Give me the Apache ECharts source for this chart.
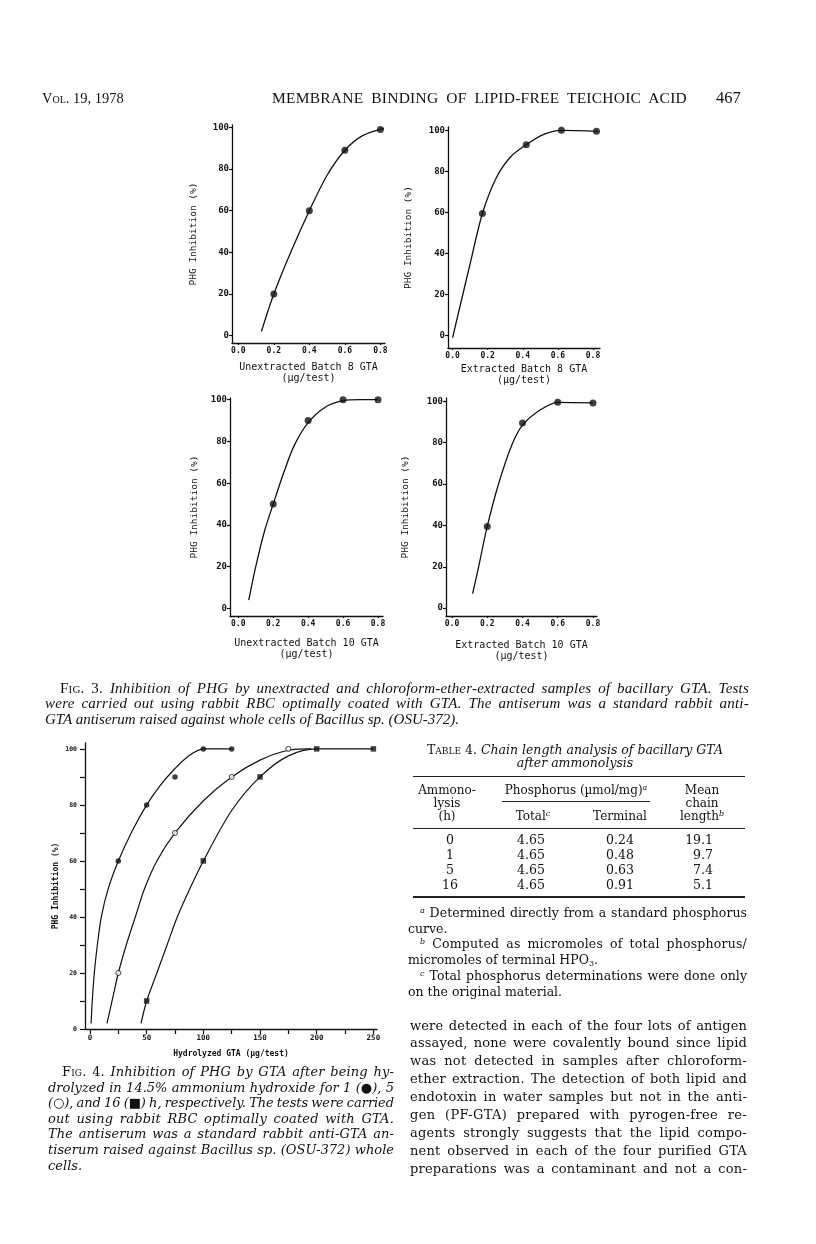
<!DOCTYPE html>
<html><head><meta charset="utf-8">
<script src="https://cdn.jsdelivr.net/npm/echarts@6/dist/echarts.min.js"></script>
<style>
body{margin:0;background:#fff;width:816px;height:1244px;position:relative;overflow:hidden}
#chart{position:absolute;left:0;top:0;width:816px;height:1244px}
.t{position:absolute;white-space:nowrap;color:#111;line-height:1}
.s{font-size:8px;position:relative;top:-4px;font-style:italic}
.sc{font-variant:small-caps;font-style:normal}
.rule{position:absolute;background:#222}
</style></head><body>
<div id="chart"></div>
<div id="txt"></div>
<script>
// ---------- tick values ----------
const smallXTicks = [0, 0.2, 0.4, 0.6, 0.8];
const smallYTicks = [0, 20, 40, 60, 80, 100];
const fig4XTicks = [0, 50, 100, 150, 200, 250];
const fig4XMinorTicks = [0, 25, 50, 75, 100, 125, 150, 175, 200, 225, 250];
const fig4YTicks = [0, 20, 40, 60, 80, 100];
const fig4YMinorTicks = [0, 10, 20, 30, 40, 50, 60, 70, 80, 90, 100];

// ---------- Fig 3 panels (x: µg/test, y: % inhibition) ----------
const p1PointX = [0.2, 0.4, 0.6, 0.8];
const p1PointY = [20, 60, 89, 99];
const p1CurveX = [0.13, 0.2, 0.3, 0.4, 0.5, 0.6, 0.7, 0.82];
const p1CurveY = [2, 20, 41, 60, 77, 89, 96, 99.5];

const p2PointX = [0.17, 0.42, 0.62, 0.82];
const p2PointY = [59.5, 93, 100, 99.5];
const p2CurveX = [0.0, 0.05, 0.1, 0.17, 0.25, 0.33, 0.42, 0.52, 0.62, 0.83];
const p2CurveY = [-1, 17, 35, 59.5, 77, 87, 93, 98, 100, 99.5];

const p3PointX = [0.2, 0.4, 0.6, 0.8];
const p3PointY = [50, 90, 100, 100];
const p3CurveX = [0.06, 0.1, 0.15, 0.2, 0.26, 0.32, 0.4, 0.5, 0.6, 0.7, 0.8];
const p3CurveY = [4, 20, 37, 50, 65, 78, 89, 96.5, 99.5, 100, 100];

const p4PointX = [0.2, 0.4, 0.6, 0.8];
const p4PointY = [39.5, 89.5, 99.5, 99.2];
const p4CurveX = [0.117, 0.151, 0.2, 0.264, 0.34, 0.4, 0.5, 0.6, 0.8];
const p4CurveY = [7, 20, 39.5, 60, 79, 88.5, 95.8, 99.5, 99.2];

// ---------- Fig 4 (x: hydrolyzed GTA µg/test, y: % inhibition) ----------
const h1PointX = [25, 50, 75, 100, 125];
const h1PointY = [60, 80, 90, 100, 100];
const h1CurveX = [1, 2, 3.8, 6.5, 10, 16, 25, 37, 50, 62, 75, 87, 100, 125];
const h1CurveY = [2, 10, 20, 30, 40, 50, 60, 70.5, 80, 87, 93, 97.5, 100, 100];

const h5PointX = [25, 75, 125, 175];
const h5PointY = [20, 70, 90, 100];
const h5CurveX = [15, 20, 25, 32, 40, 48, 59, 75, 100, 125, 150, 175, 195];
const h5CurveY = [2, 11, 20, 30, 40, 50, 60, 70, 81.5, 90, 96, 99.5, 100];

const h16PointX = [50, 100, 150, 200, 250];
const h16PointY = [10, 60, 90, 100, 100];
const h16CurveX = [45, 50, 59, 68, 77, 88, 100, 125, 150, 175, 200, 250];
const h16CurveY = [2, 10, 20, 30, 40, 50, 60, 78, 90, 97.5, 100, 100];

// ---------- Table 4 ----------
const tblHours = ['0', '1', '5', '16'];
const tblTotal = ['4.65', '4.65', '4.65', '4.65'];
const tblTerminal = ['0.24', '0.48', '0.63', '0.91'];
const tblMean = ['19.1', '9.7', '7.4', '5.1'];

const zip = (xs, ys) => xs.map((x, i) => [x, ys[i]]);
const INK = '#111';

const grids = [], xAxes = [], yAxes = [], series = [];

function addPanel(cfg) {
  const i = grids.length;
  grids.push({ left: cfg.grid[0], top: cfg.grid[1], width: cfg.grid[2], height: cfg.grid[3] });
  xAxes.push({
    type: 'value', gridIndex: i, min: cfg.xr[0], max: cfg.xr[1],
    name: cfg.xName, nameLocation: 'middle', nameGap: cfg.xGap,
    nameTextStyle: { fontFamily: 'DejaVu Sans Mono', fontSize: cfg.xNameSize, fontWeight: cfg.nameWeight, color: INK, lineHeight: cfg.xNameLH },
    axisLine: { show: true, onZero: false, lineStyle: { color: INK, width: 1.3 } },
    axisTick: { show: true, customValues: cfg.xTicks, length: cfg.xTickLen, lineStyle: { color: INK, width: 1.2 } },
    axisLabel: { show: true, customValues: cfg.xLabels, formatter: cfg.xFmt, margin: cfg.xLabelMargin,
      fontFamily: 'DejaVu Sans Mono', fontWeight: 'bold', fontSize: cfg.xLabelSize, color: INK },
    splitLine: { show: false }
  });
  yAxes.push({
    type: 'value', gridIndex: i, min: cfg.yr[0], max: cfg.yr[1],
    name: 'PHG Inhibition (%)', nameLocation: 'middle', nameRotate: 90, nameGap: cfg.yGap,
    nameTextStyle: { fontFamily: 'DejaVu Sans Mono', fontSize: cfg.yNameSize, fontWeight: cfg.nameWeight, color: INK },
    axisLine: { show: true, onZero: false, lineStyle: { color: INK, width: 1.3 } },
    axisTick: { show: true, customValues: cfg.yTicks, length: cfg.yTickLen, lineStyle: { color: INK, width: 1.2 } },
    axisLabel: { show: true, customValues: cfg.yLabels, margin: cfg.yLabelMargin,
      fontFamily: 'DejaVu Sans Mono', fontWeight: 'bold', fontSize: cfg.yLabelSize, color: INK },
    splitLine: { show: false }
  });
  cfg.curves.forEach(c => series.push({
    type: 'line', xAxisIndex: i, yAxisIndex: i, data: c, smooth: 0.3,
    showSymbol: false, symbol: 'none', lineStyle: { color: INK, width: cfg.lineW }, silent: true, z: 2
  }));
  cfg.points.forEach(p => series.push({
    type: 'scatter', xAxisIndex: i, yAxisIndex: i, data: p.data, symbol: p.symbol, symbolSize: p.size,
    itemStyle: p.itemStyle, silent: true, z: 3
  }));
}

const smallCommon = {
  xTicks: smallXTicks, xLabels: smallXTicks, yTicks: smallYTicks, yLabels: smallYTicks,
  xFmt: v => v.toFixed(1), xTickLen: 2, yTickLen: 3, xLabelMargin: 4, yLabelMargin: 3,
  xLabelSize: 8, yLabelSize: 9, xNameSize: 10, yNameSize: 9.5, xNameLH: 11, nameWeight: 'normal', lineW: 1.3
};
const dot7 = d => ({ data: d, symbol: 'circle', size: 7, itemStyle: { color: INK } });

addPanel(Object.assign({}, smallCommon, {
  grid: [232, 125, 153, 218], xr: [-0.0355, 0.826], yr: [-3.5, 101.1],
  xName: 'Unextracted Batch 8 GTA\n(µg/test)', xGap: 19, yGap: 33,
  curves: [zip(p1CurveX, p1CurveY)], points: [dot7(zip(p1PointX, p1PointY))]
}));
addPanel(Object.assign({}, smallCommon, {
  grid: [448, 127, 152, 221], xr: [-0.026, 0.84], yr: [-6, 101.6],
  xName: 'Extracted Batch 8 GTA\n(µg/test)', xGap: 16, yGap: 34,
  curves: [zip(p2CurveX, p2CurveY)], points: [dot7(zip(p2PointX, p2PointY))]
}));
addPanel(Object.assign({}, smallCommon, {
  grid: [230, 398, 153, 218], xr: [-0.0474, 0.8286], yr: [-3.6, 100.8],
  xName: 'Unextracted Batch 10 GTA\n(µg/test)', xGap: 22, yGap: 30,
  curves: [zip(p3CurveX, p3CurveY)], points: [dot7(zip(p3PointX, p3PointY))]
}));
addPanel(Object.assign({}, smallCommon, {
  grid: [446, 398, 151, 218], xr: [-0.034, 0.8227], yr: [-3.8, 101.6],
  xName: 'Extracted Batch 10 GTA\n(µg/test)', xGap: 24, yGap: 35,
  curves: [zip(p4CurveX, p4CurveY)], points: [dot7(zip(p4PointX, p4PointY))]
}));
addPanel({
  grid: [85, 743, 292, 286], xr: [-4.4, 253.2], yr: [0, 102.1],
  xTicks: fig4XMinorTicks, xLabels: fig4XTicks, yTicks: fig4YMinorTicks, yLabels: fig4YTicks,
  xFmt: v => String(v), xTickLen: 5, yTickLen: 5, xLabelMargin: 5, yLabelMargin: 8,
  xLabelSize: 7.5, yLabelSize: 6.5, xNameSize: 8, yNameSize: 8, xNameLH: 10, nameWeight: 'bold', lineW: 1.2,
  xName: 'Hydrolyzed GTA (µg/test)', xGap: 20, yGap: 25,
  curves: [zip(h1CurveX, h1CurveY), zip(h5CurveX, h5CurveY), zip(h16CurveX, h16CurveY)],
  points: [
    { data: zip(h1PointX, h1PointY), symbol: 'circle', size: 5.5, itemStyle: { color: INK } },
    { data: zip(h5PointX, h5PointY), symbol: 'circle', size: 5, itemStyle: { color: '#fff', borderColor: INK, borderWidth: 1 } },
    { data: zip(h16PointX, h16PointY), symbol: 'rect', size: 5.5, itemStyle: { color: INK } }
  ]
});

const chart = echarts.init(document.getElementById('chart'), null, { renderer: 'canvas', width: 816, height: 1244 });
chart.setOption({ animation: false, backgroundColor: '#fff', grid: grids, xAxis: xAxes, yAxis: yAxes, series: series });

// ---------- page text ----------
const T = document.getElementById('txt');
function put(html, x, yc, size, family, opt) {
  opt = opt || {};
  const d = document.createElement('div');
  d.className = 't';
  d.innerHTML = html;
  d.style.fontSize = size + 'px';
  d.style.fontFamily = family;
  if (opt.italic) d.style.fontStyle = 'italic';
  if (opt.weight) d.style.fontWeight = opt.weight;
  d.style.left = x + 'px';
  T.appendChild(d);
  if (opt.w) {
    const txt = d.textContent;
    const nSp = (txt.match(/ /g) || []).length;
    let w = d.getBoundingClientRect().width;
    const ls = (opt.w - w) * 0.35 / txt.length;
    d.style.letterSpacing = ls + 'px';
    w = d.getBoundingClientRect().width;
    if (nSp > 0) d.style.wordSpacing = ((opt.w - w) / nSp) + 'px';
  }
  const r = d.getBoundingClientRect();
  if (opt.center) d.style.left = (x - r.width / 2) + 'px';
  if (opt.right) d.style.left = (x - r.width) + 'px';
  d.style.top = (yc - r.height / 2) + 'px';
  return d;
}
function rule(x1, x2, y, h) {
  const d = document.createElement('div');
  d.className = 'rule';
  d.style.left = x1 + 'px'; d.style.width = (x2 - x1) + 'px';
  d.style.top = (y - h / 2) + 'px'; d.style.height = h + 'px';
  T.appendChild(d);
}
const SERIF = '"Liberation Serif", serif';
const CENT = '"DejaVu Serif", serif';

// running head
put('V<span style="font-variant:small-caps">ol</span>. 19, 1978', 42, 98, 14.5, SERIF);
put('MEMBRANE BINDING OF LIPID-FREE TEICHOIC ACID', 272, 98, 15.5, SERIF, { w: 415 });
put('467', 716, 98, 16.5, SERIF);

// Fig. 3 caption
const f3 = [
  ['F<span class="sc">ig</span>. 3. <i>Inhibition of PHG by unextracted and chloroform-ether-extracted samples of bacillary GTA. Tests</i>', 60, true],
  ['<i>were carried out using rabbit RBC optimally coated with GTA. The antiserum was a standard rabbit anti-</i>', 45, true],
  ['<i>GTA antiserum raised against whole cells of Bacillus sp. (OSU-372).</i>', 45, false]
];
f3.forEach((l, i) => put(l[0], l[1], 688 + i * 15.6, 15, SERIF, l[2] ? { w: 749 - l[1] } : {}));

// Fig. 4 caption
const f4 = [
  ['F<span class="sc">ig</span>. 4. <i>Inhibition of PHG by GTA after being hy-</i>', 62, true],
  ['<i>drolyzed in 14.5% ammonium hydroxide for 1 (</i>●<i>), 5</i>', 48, true],
  ['<i>(</i>○<i>), and 16 (</i>■<i>) h, respectively. The tests were carried</i>', 48, true],
  ['<i>out using rabbit RBC optimally coated with GTA.</i>', 48, true],
  ['<i>The antiserum was a standard rabbit anti-GTA an-</i>', 48, true],
  ['<i>tiserum raised against Bacillus sp. (OSU-372) whole</i>', 48, true],
  ['<i>cells.</i>', 48, false]
];
f4.forEach((l, i) => put(l[0], l[1], 1071.7 + i * 15.55, 13, CENT, l[2] ? { w: 394 - l[1] } : {}));

// Table 4
put('T<span class="sc">able</span> 4. <i>Chain length analysis of bacillary GTA</i>', 575, 750, 12.5, CENT, { center: true });
put('<i>after ammonolysis</i>', 575, 763.5, 12.5, CENT, { center: true });
rule(413, 745, 776.5, 1.5);
put('Ammono-', 447, 790, 12, CENT, { center: true });
put('lysis', 447, 802.5, 12, CENT, { center: true });
put('(h)', 447, 816, 12, CENT, { center: true });
put('Phosphorus (µmol/mg)<span class="s">a</span>', 576, 790, 12, CENT, { center: true });
rule(502, 650, 801, 1);
put('Total<span class="s">c</span>', 533, 816, 12, CENT, { center: true });
put('Terminal', 620, 816, 12, CENT, { center: true });
put('Mean', 702, 790, 12, CENT, { center: true });
put('chain', 702, 802.5, 12, CENT, { center: true });
put('length<span class="s">b</span>', 702, 816, 12, CENT, { center: true });
rule(413, 745, 828.5, 1);
tblHours.forEach((h, i) => {
  const y = 840 + i * 15;
  put(h, 450, y, 12.5, CENT, { center: true });
  put(tblTotal[i], 531, y, 12.5, CENT, { center: true });
  put(tblTerminal[i], 620, y, 12.5, CENT, { center: true });
  put(tblMean[i], 713, y, 12.5, CENT, { right: true });
});
rule(413, 745, 897, 1.5);
const foot = [
  ['<span class="s">a</span> Determined directly from a standard phosphorus', 420, true],
  ['curve.', 408, false],
  ['<span class="s">b</span> Computed as micromoles of total phosphorus/', 420, true],
  ['micromoles of terminal HPO<span style="font-size:8px;position:relative;top:2px">3</span>.', 408, false],
  ['<span class="s">c</span> Total phosphorus determinations were done only', 420, true],
  ['on the original material.', 408, false]
];
foot.forEach((l, i) => put(l[0], l[1], 913 + i * 15.8, 12.5, CENT, l[2] ? { w: 747 - l[1] } : {}));

// body text
const body = [
  'were detected in each of the four lots of antigen',
  'assayed, none were covalently bound since lipid',
  'was not detected in samples after chloroform-',
  'ether extraction. The detection of both lipid and',
  'endotoxin in water samples but not in the anti-',
  'gen (PF-GTA) prepared with pyrogen-free re-',
  'agents strongly suggests that the lipid compo-',
  'nent observed in each of the four purified GTA',
  'preparations was a contaminant and not a con-'
];
body.forEach((l, i) => put(l, 410, 1025 + i * 17.9, 13, CENT, { w: 337 }));
</script>
</body></html>
